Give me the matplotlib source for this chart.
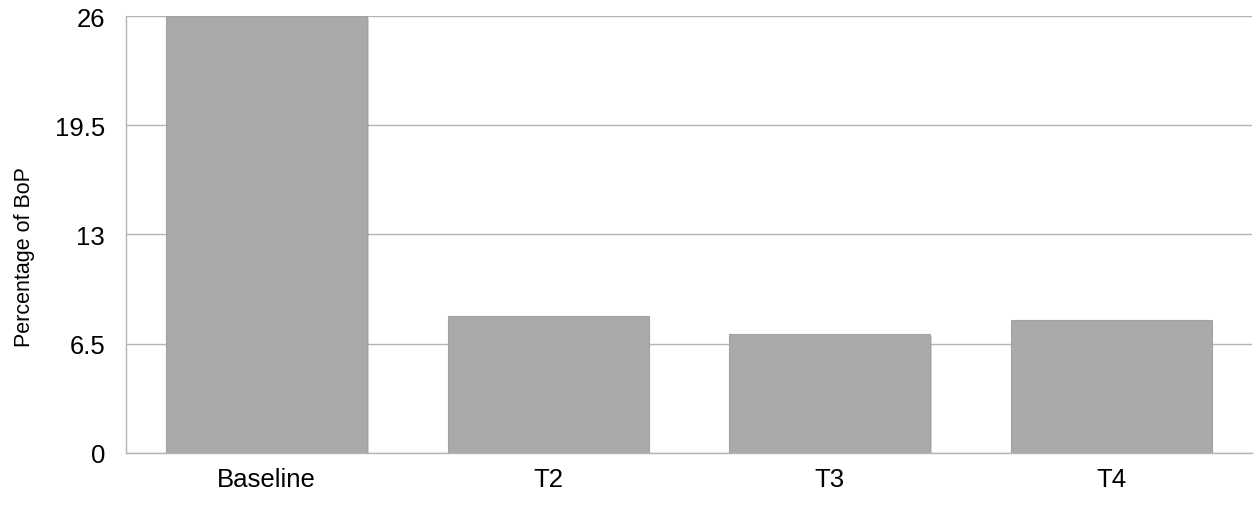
import matplotlib
matplotlib.use('Agg')
import matplotlib.pyplot as plt
import matplotlib.patheffects as pe

categories = ['Baseline', 'T2', 'T3', 'T4']
values = [26.0, 8.15, 7.1, 7.9]
yticks = [0, 6.5, 13, 19.5, 26]
ytick_labels = ['0', '6.5', '13', '19.5', '26']

plt.rcParams['font.family'] = ['Liberation Sans', 'DejaVu Sans']

fig = plt.figure(figsize=(12.59, 5.06), dpi=100)
ax = fig.add_axes([0.1, 0.1028, 0.8944, 0.8636])

bars = ax.bar(range(len(categories)), values, width=0.714, color='#aaaaaa',
              edgecolor='#a2a2a2', linewidth=0.8, zorder=3)
for b in bars:
    b.set_path_effects([pe.SimplePatchShadow(offset=(1, -1.5), shadow_rgbFace='#888888', alpha=0.35),
                        pe.Normal()])

ax.set_xlim(-0.5, len(categories) - 0.5)
ax.set_ylim(0, 26)
ax.set_yticks(yticks)
ax.set_yticklabels(ytick_labels)
ax.set_xticks(range(len(categories)))
ax.set_xticklabels(categories)

ax.yaxis.grid(True, color='#b4b4b4', linewidth=1.0, zorder=0)
ax.set_axisbelow(True)
for side in ['top', 'right']:
    ax.spines[side].set_visible(False)
for side in ['left', 'bottom']:
    ax.spines[side].set_color('#b4b4b4')
    ax.spines[side].set_linewidth(1.0)

ax.tick_params(axis='both', length=0, labelsize=18.5, colors='black')
ax.tick_params(axis='y', pad=15)
ax.tick_params(axis='x', pad=10)
ax.set_ylabel('Percentage of BoP', fontsize=15.5)
ax.yaxis.set_label_coords(-0.081, 0.45)

fig.savefig('out.png', dpi=100)
